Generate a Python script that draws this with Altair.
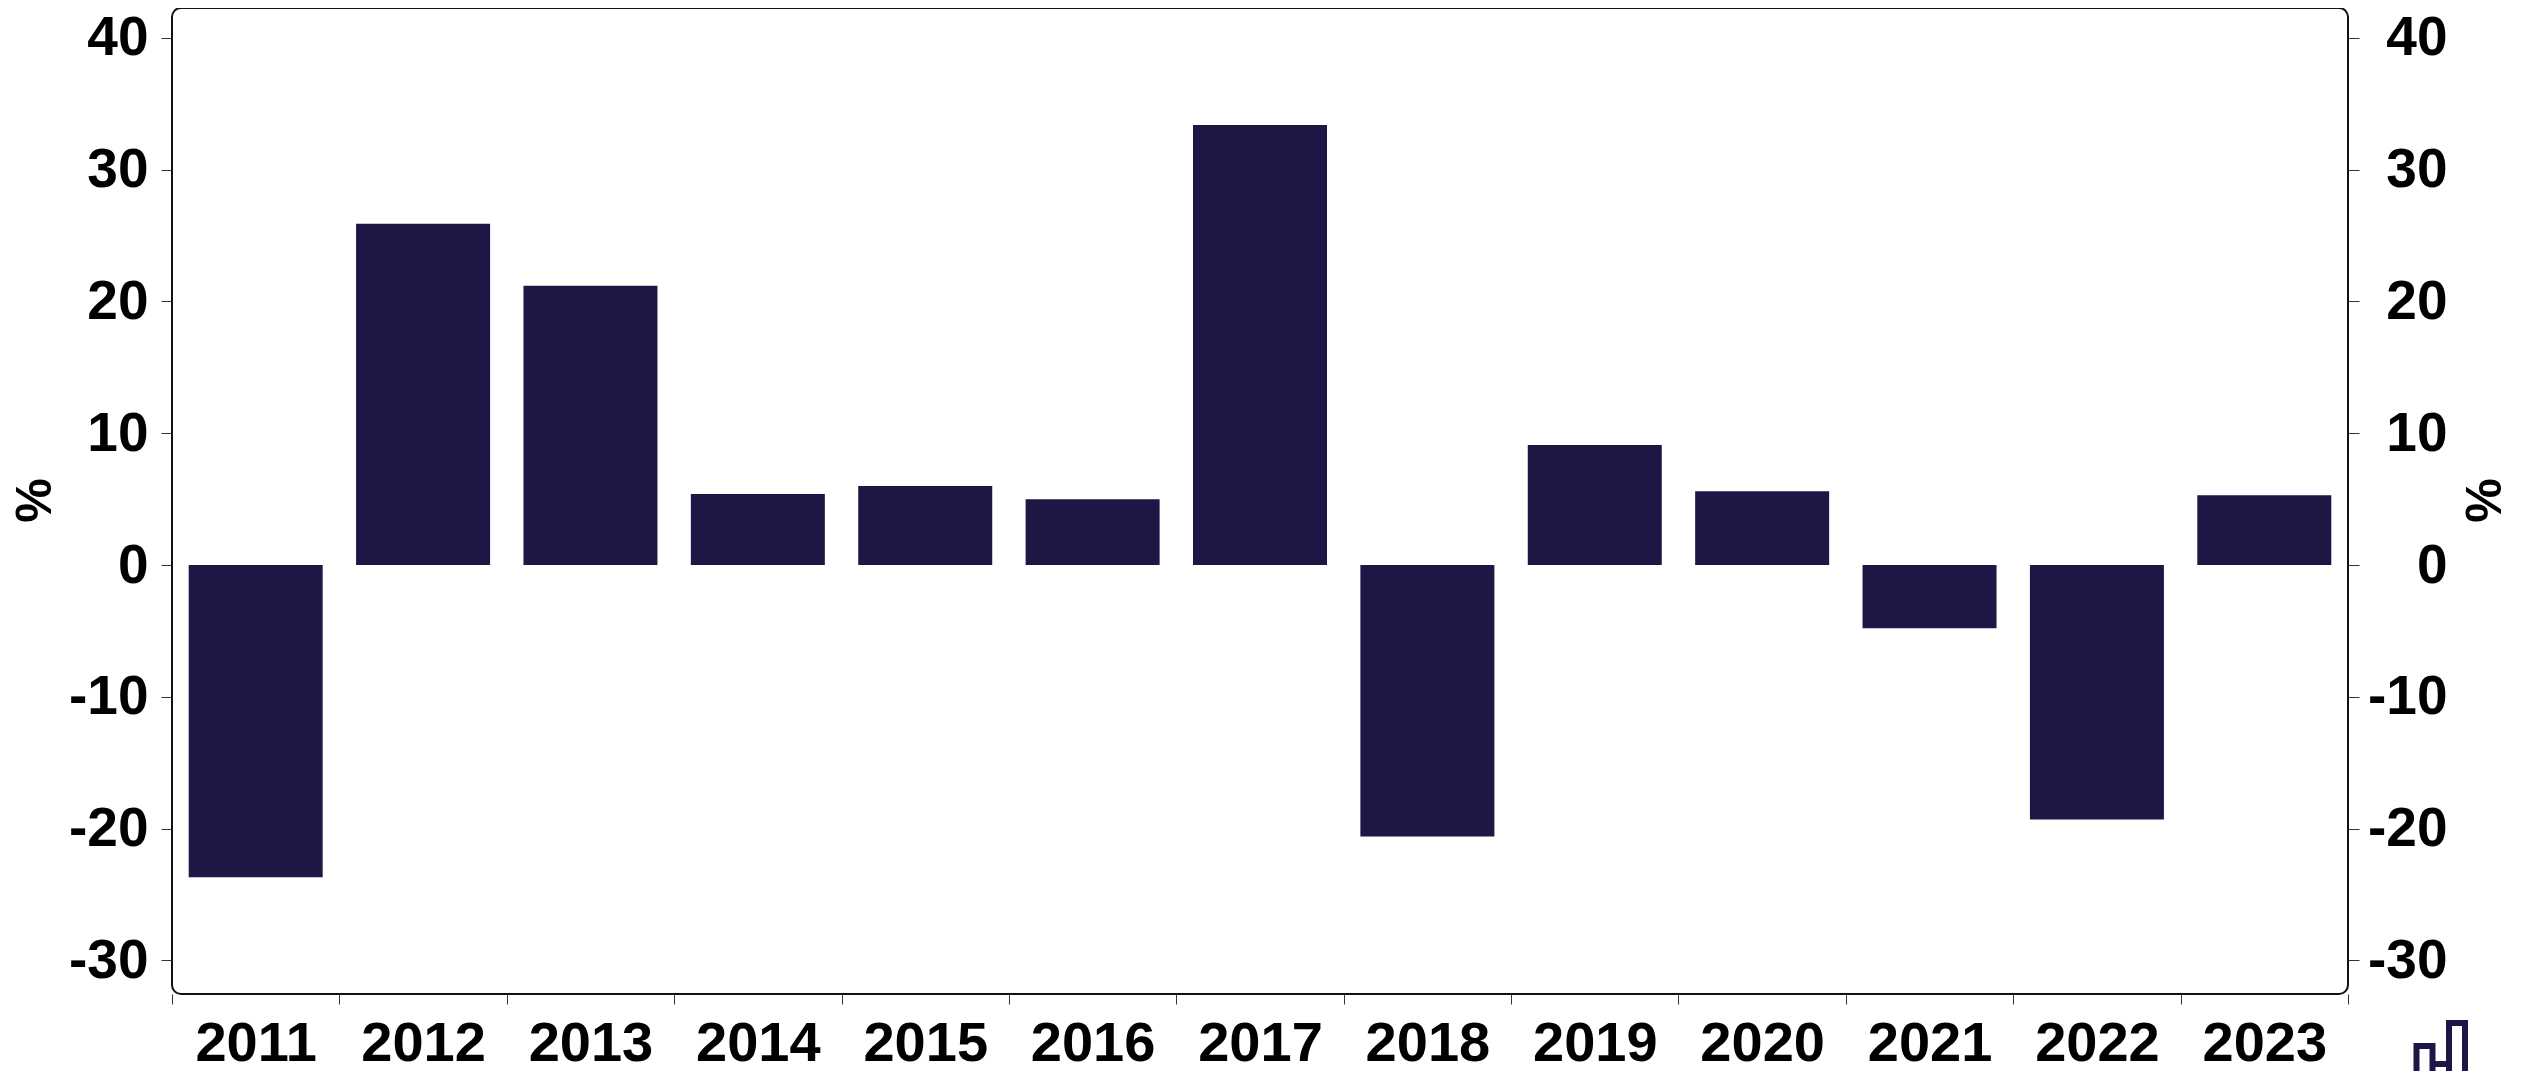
import altair as alt
import pandas as pd

years = ["2011","2012","2013","2014","2015","2016","2017","2018","2019","2020","2021","2022","2023"]
values = [-23.7, 25.9, 21.2, 5.4, 6.0, 5.0, 33.4, -20.6, 9.1, 5.6, -4.8, -19.3, 5.3]
ticks = [40, 30, 20, 10, 0, -10, -20, -30]
domain = [-32.55, 42.27]
color = "#1f1646"
font = "Liberation Sans"
logo = ("M-0.245 0.4L-0.245 -0.04L-0.085 -0.04L-0.085 0.4M-0.085 0.14L0.08 0.14"
        "M0.08 0.4L0.08 -0.27L0.24 -0.27L0.24 0.4")

df = pd.DataFrame({"year": years, "value": values})
yscale = alt.Scale(domain=domain, nice=False, zero=False)
xscale = alt.Scale(paddingInner=0, paddingOuter=0)
xaxis = alt.Axis(labelAngle=0, tickBand="extent", tickSize=10, tickWidth=1, tickColor="#333333",
                 domain=False, grid=False, labelFont=font, labelFontSize=56, labelFontWeight="bold",
                 labelColor="#000000", labelPadding=12, labelBaseline="top")
common = dict(values=ticks, grid=False, domain=False, tickSize=11, tickWidth=1, tickColor="#333333",
              labelFont=font, labelFontSize=55, labelFontWeight="bold", labelColor="#000000",
              labelExpr="datum.value + ''",
              titleFont=font, titleFontSize=50, titleFontWeight="bold", titleColor="#000000",
              titleAngle=270, titleBaseline="middle", titleY=492, title="%")

bars = alt.Chart(df).mark_bar(color=color, size=134).encode(
    x=alt.X("year:N", sort=years, title=None, scale=xscale, axis=xaxis),
    y=alt.Y("value:Q", scale=yscale, axis=alt.Axis(orient="left", labelPadding=13, titleX=-137, **common)),
)
right = alt.Chart(df).mark_bar(opacity=0, size=134).encode(
    x=alt.X("year:N", sort=years, title=None, scale=xscale, axis=xaxis),
    y=alt.Y("value:Q", scale=yscale,
            axis=alt.Axis(orient="right", labelAlign="right", labelPadding=88, titleX=137, **common)),
)
mark = alt.Chart(df.head(1)).mark_point(shape=logo, size=40000, filled=False, stroke=color, strokeWidth=6, opacity=1).encode(
    x=alt.value(2269), y=alt.value(1042),
)
chart = (alt.layer(bars, right, mark).resolve_scale(y="independent")
    .properties(width=2176, height=986,
                autosize=alt.AutoSizeParams(type="none"),
                padding={"left": 164, "top": 0, "right": 166, "bottom": 77})
    .configure(background="#ffffff",
               view=alt.ViewConfig(stroke="#111111", strokeWidth=2, cornerRadius=9, fill="#ffffff")))
chart.save("out.html", embed_options={"renderer": "svg", "actions": False})
